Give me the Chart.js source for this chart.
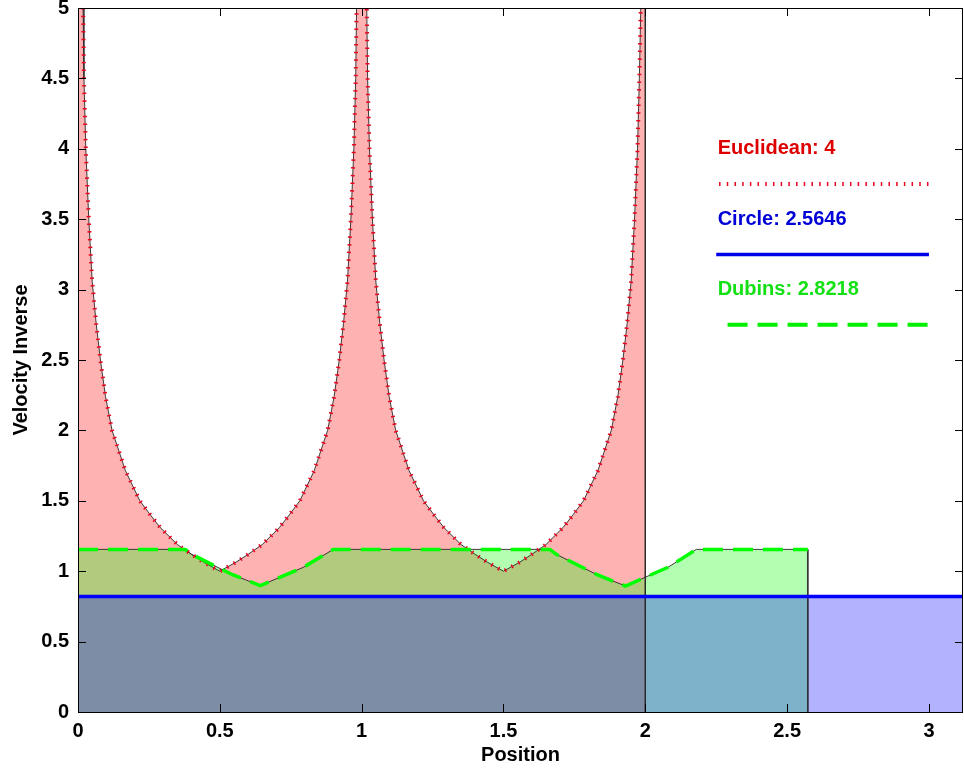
<!DOCTYPE html>
<html>
<head>
<meta charset="utf-8">
<script src="https://cdn.jsdelivr.net/npm/chart.js@4.4.0/dist/chart.umd.min.js"></script>
<style>
  html, body { margin: 0; padding: 0; background: #fff; overflow: hidden; }
</style>
</head>
<body>
<canvas id="velChart" width="964" height="771"></canvas>
<script>
// Euclidean velocity inverse (spikes at integer positions, clipped by the axis)
const eucX = [
  0, 0.018, 0.021, 0.0275, 0.038, 0.05, 0.064, 0.079, 0.097, 0.12, 0.167, 0.218, 0.255, 0.29, 0.35, 0.4, 0.443, 0.5,
  0.557, 0.6, 0.65, 0.71, 0.745, 0.782, 0.833, 0.88, 0.903, 0.921, 0.936, 0.95, 0.962, 0.9725, 0.979, 0.982, 1.0,
  1.018, 1.021, 1.0275, 1.038, 1.05, 1.064, 1.079, 1.097, 1.12, 1.167, 1.218, 1.255, 1.29, 1.35, 1.4, 1.443, 1.5,
  1.557, 1.6, 1.65, 1.71, 1.745, 1.782, 1.833, 1.88, 1.903, 1.921, 1.936, 1.95, 1.962, 1.9725, 1.979, 1.984, 2.0
];
const eucY = [
  12, 5, 4.5, 4, 3.5, 3.06, 2.76, 2.5, 2.24, 2, 1.715, 1.5, 1.4, 1.31, 1.19, 1.12, 1.064, 1.0,
  1.064, 1.12, 1.19, 1.31, 1.4, 1.5, 1.715, 2, 2.24, 2.5, 2.76, 3.06, 3.5, 4, 4.5, 5, 12,
  5, 4.5, 4, 3.5, 3.06, 2.76, 2.5, 2.24, 2, 1.715, 1.5, 1.4, 1.31, 1.19, 1.12, 1.064, 1.0,
  1.064, 1.12, 1.19, 1.31, 1.4, 1.5, 1.715, 2, 2.24, 2.5, 2.76, 3.06, 3.5, 4, 4.5, 5, 12
];
const eucEnd = 2.0;

// Dubins velocity inverse
const dubX = [0, 0.3785, 0.40, 0.545, 0.643, 0.795, 0.90, 1.664, 1.686, 1.83, 1.93, 2.08, 2.18, 2.573];
const dubY = [1.155, 1.155, 1.12, 0.975, 0.898, 1.028, 1.155, 1.155, 1.12, 0.975, 0.895, 1.028, 1.155, 1.155];

// Circle velocity inverse
const circX = [0, 3.12];
const circY = [0.82, 0.82];

// axis ticks
const xTicks = [0, 0.5, 1, 1.5, 2, 2.5, 3];
const yTicks = [0, 0.5, 1, 1.5, 2, 2.5, 3, 3.5, 4, 4.5, 5];

// in-plot legend (data coordinates)
const keyLabels = ['Euclidean: 4', 'Circle: 2.5646', 'Dubins: 2.8218'];
const keyColors = ['rgb(222,0,0)', 'rgb(0,0,215)', 'rgb(20,225,20)'];
const keyTextX = 2.255;
const keyTextY = [4, 3.5, 3];
const keyLineX0 = [2.26, 2.25, 2.29];
const keyLineX1 = 3.0;
const keyLineY = [3.75, 3.25, 2.75];

const pts = (xs, ys) => xs.map((x, i) => ({ x: x, y: ys[i] }));

const eucPts = pts(eucX, eucY);
const dubPts = pts(dubX, dubY);
const circPts = pts(circX, circY);

const edge = 'rgba(40,40,40,0.9)';

const boxPlugin = {
  id: 'boxPlugin',
  afterDraw(chart) {
    const ctx = chart.ctx;
    const a = chart.chartArea;
    const xs = chart.scales.x, ys = chart.scales.y;
    ctx.save();
    ctx.strokeStyle = '#000';
    ctx.lineWidth = 1;
    ctx.beginPath();
    xTicks.forEach(v => {
      const px = Math.round(xs.getPixelForValue(v)) + 0.5;
      ctx.moveTo(px, a.bottom); ctx.lineTo(px, a.bottom - 8);
      ctx.moveTo(px, a.top); ctx.lineTo(px, a.top + 8);
    });
    yTicks.forEach(v => {
      const py = Math.round(ys.getPixelForValue(v)) + 0.5;
      ctx.moveTo(a.left, py); ctx.lineTo(a.left + 8, py);
      ctx.moveTo(a.right, py); ctx.lineTo(a.right - 8, py);
    });
    ctx.stroke();
    ctx.strokeRect(Math.round(a.left) + 0.5, Math.round(a.top) + 0.5,
      Math.round(a.right - a.left) - 1, Math.round(a.bottom - a.top));

    // legend texts
    ctx.font = 'bold 20px "Liberation Sans", Arial, sans-serif';
    ctx.textBaseline = 'middle';
    ctx.textAlign = 'left';
    keyLabels.forEach((t, i) => {
      ctx.fillStyle = keyColors[i];
      ctx.fillText(t, xs.getPixelForValue(keyTextX), ys.getPixelForValue(keyTextY[i]));
    });
    ctx.restore();
  }
};

Chart.defaults.font.family = '"Liberation Sans", Arial, sans-serif';
Chart.defaults.color = '#000';

new Chart(document.getElementById('velChart').getContext('2d'), {
  type: 'line',
  data: {
    datasets: [
      // filled patches
      {
        data: eucPts.concat([{ x: eucEnd, y: 0 }]),
        fill: 'origin', backgroundColor: 'rgba(255,0,0,0.3)',
        borderColor: edge, borderWidth: 1, pointRadius: 0, order: 6
      },
      {
        data: dubPts.concat([{ x: dubX[dubX.length - 1], y: 0 }]),
        fill: 'origin', backgroundColor: 'rgba(0,255,0,0.3)',
        borderColor: edge, borderWidth: 1, pointRadius: 0, order: 5
      },
      {
        data: circPts,
        fill: 'origin', backgroundColor: 'rgba(0,0,255,0.3)',
        borderColor: edge, borderWidth: 1, pointRadius: 0, order: 4
      },
      // styled lines
      {
        data: eucPts, fill: false, borderColor: 'rgb(235,0,30)', borderWidth: 4,
        borderDash: [1.5, 6.2], borderCapStyle: 'butt', pointRadius: 0, order: 3
      },
      {
        data: circPts, fill: false, borderColor: 'rgb(0,0,255)', borderWidth: 3.5,
        pointRadius: 0, order: 2
      },
      {
        data: dubPts, fill: false, borderColor: 'rgb(0,255,0)', borderWidth: 3.5,
        borderDash: [20, 10], pointRadius: 0, order: 1
      },
      // legend keys
      {
        data: [{ x: keyLineX0[0], y: keyLineY[0] }, { x: keyLineX1, y: keyLineY[0] }],
        fill: false, borderColor: 'rgb(235,0,30)', borderWidth: 4,
        borderDash: [1.5, 6.2], pointRadius: 0, order: 0
      },
      {
        data: [{ x: keyLineX0[1], y: keyLineY[1] }, { x: keyLineX1, y: keyLineY[1] }],
        fill: false, borderColor: 'rgb(0,0,235)', borderWidth: 3.5, pointRadius: 0, order: 0
      },
      {
        data: [{ x: keyLineX0[2], y: keyLineY[2] }, { x: keyLineX1, y: keyLineY[2] }],
        fill: false, borderColor: 'rgb(0,240,0)', borderWidth: 4,
        borderDash: [20, 10], pointRadius: 0, order: 0
      }
    ]
  },
  options: {
    responsive: false,
    animation: false,
    events: [],
    layout: { padding: { top: 8, right: 1, left: 0, bottom: 0 } },
    plugins: {
      legend: { display: false },
      tooltip: { enabled: false },
      filler: { drawTime: 'beforeDatasetsDraw' }
    },
    elements: { line: { tension: 0 } },
    scales: {
      x: {
        type: 'linear', min: 0, max: 3.12,
        afterBuildTicks: s => { s.ticks = xTicks.map(v => ({ value: v })); },
        afterFit: s => { s.height = 59; s.paddingLeft = 0; s.paddingRight = 0; },
        grid: { display: false, tickLength: 0 },
        border: { display: false },
        ticks: { font: { size: 20, weight: 'bold' }, padding: 7, maxRotation: 0, callback: v => String(v) },
        title: { display: true, text: 'Position', font: { size: 20, weight: 'bold' }, padding: { top: 0, bottom: 4 } }
      },
      y: {
        type: 'linear', min: 0, max: 5,
        afterBuildTicks: s => { s.ticks = yTicks.map(v => ({ value: v })); },
        afterFit: s => { s.width = 78; s.paddingTop = 0; s.paddingBottom = 0; },
        grid: { display: false, tickLength: 0 },
        border: { display: false },
        ticks: { font: { size: 20, weight: 'bold' }, padding: 9, callback: v => String(v) },
        title: { display: true, text: 'Velocity Inverse', font: { size: 20, weight: 'bold' }, padding: { top: 9, bottom: 0 } }
      }
    }
  },
  plugins: [boxPlugin]
});
</script>
</body>
</html>
